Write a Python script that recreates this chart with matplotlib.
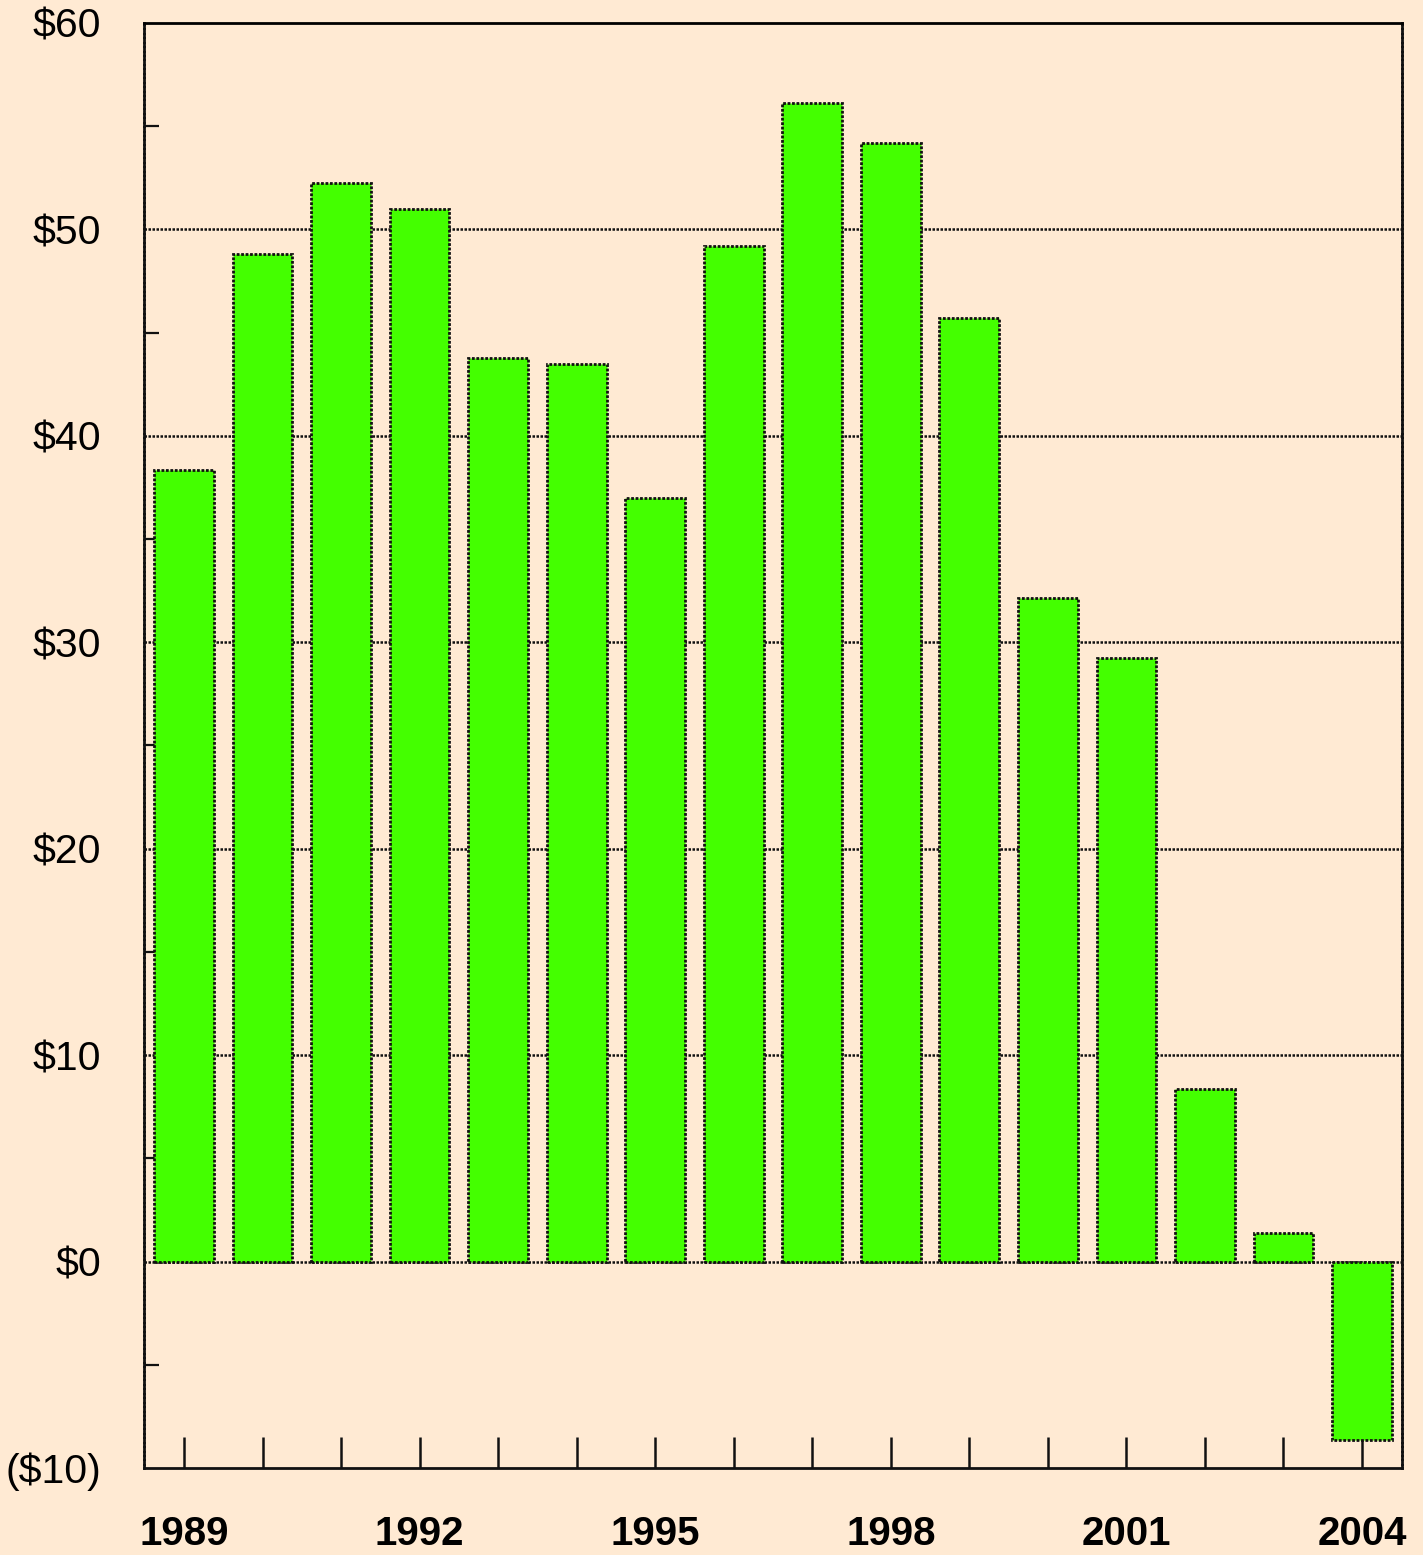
import matplotlib
matplotlib.use("Agg")
import matplotlib.pyplot as plt
import numpy as np

years = list(range(1989, 2005))
values = [38.35, 48.83, 52.23, 50.97, 43.79, 43.50, 36.99, 49.22,
          56.12, 54.17, 45.73, 32.14, 29.22, 8.35, 1.36, -8.64]
y_ticks = [-10, 0, 10, 20, 30, 40, 50, 60]
y_labels = ["($10)", "$0", "$10", "$20", "$30", "$40", "$50", "$60"]
x_label_years = [1989, 1992, 1995, 1998, 2001, 2004]

bg = "#FFEAD3"
green = "#44FF00"
dot = (0, (1.0, 0.6))

plt.rcParams['font.family'] = ['Liberation Sans', 'DejaVu Sans']
fig = plt.figure(figsize=(14.23, 15.55), dpi=100, facecolor=bg)
ax = fig.add_axes([144/1423, 87/1555, (1402-144)/1423, (1468-23)/1555])
ax.set_facecolor(bg)

x = np.arange(len(years))
ax.set_xlim(-0.51, len(years) - 0.49)
ax.set_ylim(-10, 60)

for yv in [0, 10, 20, 30, 40, 50]:
    ax.axhline(yv, color="#111111", lw=1.8, ls=dot, zorder=1)

ax.bar(x, values, width=0.76, color=green, edgecolor="#111111",
       linewidth=2.0, linestyle=dot, zorder=2)

ax.set_yticks(y_ticks)
ax.set_yticklabels(y_labels, fontsize=29.5)
ax.set_yticks([-5, 5, 15, 25, 35, 45, 55], minor=True)
ax.tick_params(axis='y', which='major', length=0, pad=31)
ax.tick_params(axis='y', which='minor', direction='in', length=11, width=1.6, color="#111111")

label_pos = [years.index(yv) for yv in x_label_years]
ax.set_xticks(label_pos)
ax.set_xticklabels([str(yv) for yv in x_label_years], fontsize=29, fontweight='bold')
ax.set_xticks([i for i in x if i not in label_pos], minor=True)
ax.tick_params(axis='x', which='both', direction='in', length=22, width=1.8, color="#111111", pad=34)

for side in ['left', 'right', 'bottom']:
    ax.spines[side].set_linestyle(dot)
    ax.spines[side].set_linewidth(2.0)
    ax.spines[side].set_color("#111111")
ax.spines['top'].set_linewidth(2.0)
ax.spines['top'].set_color("black")
ax.spines['bottom'].set_linestyle('-')

fig.savefig("out.png", dpi=100, facecolor=bg)
